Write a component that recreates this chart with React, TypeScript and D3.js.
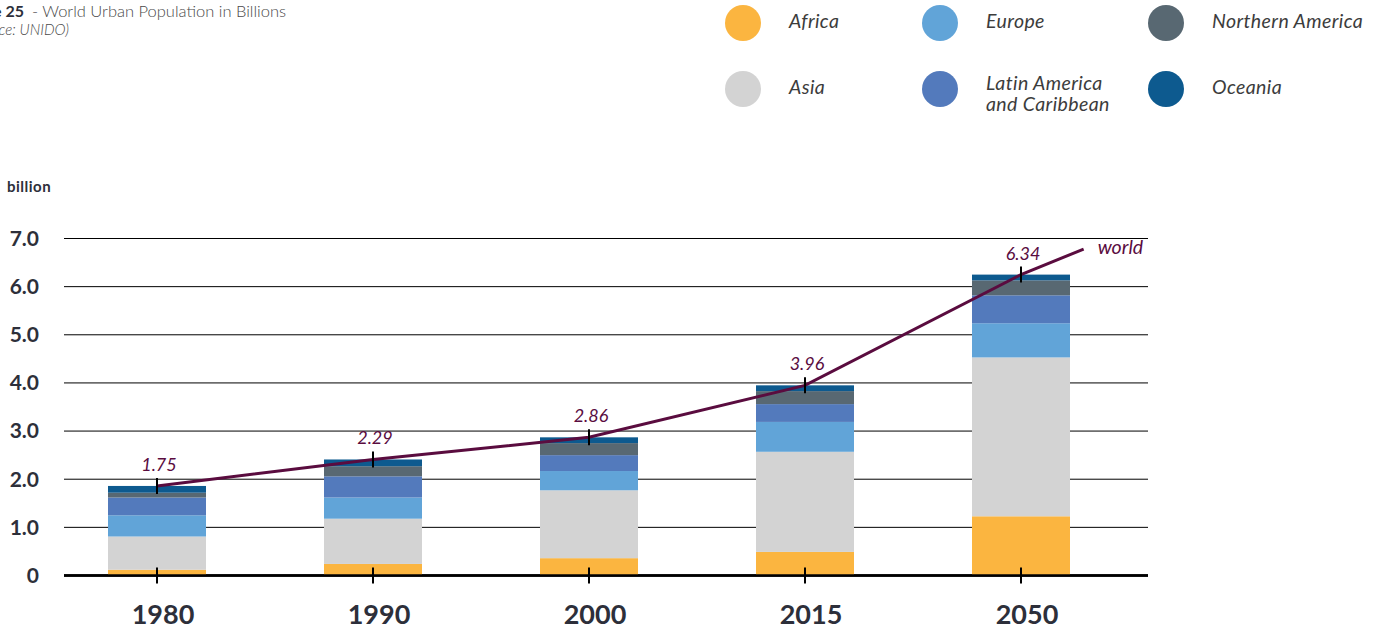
import React from 'react'
import * as d3 from 'd3'

// urban population by region, billions
const years = ['1980', '1990', '2000', '2015', '2050']
const africa = [0.12, 0.24, 0.36, 0.49, 1.23]
const asia = [0.69, 0.94, 1.41, 2.08, 3.3]
const europe = [0.44, 0.44, 0.4, 0.62, 0.71]
const latinAmerica = [0.37, 0.44, 0.33, 0.37, 0.58]
const northernAmerica = [0.1, 0.21, 0.25, 0.27, 0.31]
const oceania = [0.14, 0.14, 0.12, 0.12, 0.12]
const worldLabels = [1.75, 2.29, 2.86, 3.96, 6.34]
const worldTrendEnd = 6.78
const yTicks = [0, 1, 2, 3, 4, 5, 6, 7]

const regions = ['Africa', 'Asia', 'Europe', 'Latin America and Caribbean', 'Northern America', 'Oceania']
const regionColors = ['#fbb540', '#d3d3d3', '#61a4d8', '#537abc', '#586872', '#0d5a8f']
const legendOrder = ['Africa', 'Asia', 'Europe', 'Latin America and Caribbean', 'Northern America', 'Oceania']
const legendLines = [['Africa'], ['Asia'], ['Europe'], ['Latin America', 'and Caribbean'], ['Northern America'], ['Oceania']]

const W = 1377, H = 637
const LINE = '#5a0c3f'
const INK = '#2d2f3a'

export default function App() {
  const rows = years.map((yr, i) => ({
    year: yr,
    Africa: africa[i],
    Asia: asia[i],
    Europe: europe[i],
    'Latin America and Caribbean': latinAmerica[i],
    'Northern America': northernAmerica[i],
    Oceania: oceania[i],
  }))
  const stacked = d3.stack().keys(regions)(rows as any)
  const totals = rows.map((r, i) => stacked[stacked.length - 1][i][1])

  const x = d3.scalePoint().domain(years).range([157, 1021])
  const y = d3.scaleLinear().domain([0, 7]).range([575.5, 238.5])
  const color = d3.scaleOrdinal<string>().domain(regions).range(regionColors)
  const barW = 98
  const gridL = 64, gridR = 1148

  const step = x.step()
  const linePts: [number, number][] = years.map((yr, i) => [x(yr)!, y(totals[i])])
  linePts.push([x(years[years.length - 1])! + step * 0.29, y(worldTrendEnd)])
  const linePath = d3.line()(linePts)

  return (
    <svg width={W} height={H} style={{ position: 'absolute', left: 0, top: 0, fontFamily: 'Lato, sans-serif' }}>
      {/* title (cut off at the left edge, as in the source image) */}
      <text x={24} y={17} fontSize={16} textAnchor="end" fill={INK} fontWeight={700}>Figure 25</text>
      <text x={32} y={17} fontSize={16.5} fill="#4a4a4a" fontWeight={300} textLength={254}>- World Urban Population in Billions</text>
      <text x={69} y={35} fontSize={15} textAnchor="end" fill="#4a4a4a" fontStyle="italic" fontWeight={300}>(Source: UNIDO)</text>

      {/* legend */}
      {legendOrder.map((name, i) => {
        const col = Math.floor(i / 2)
        const row = i % 2
        const cx = [743, 940, 1166][col]
        const cy = [23, 89][row]
        const lines = legendLines[i]
        return (
          <g key={name}>
            <circle cx={cx} cy={cy} r={18} fill={color(name)} />
            {lines.map((t, j) => (
              <text key={t} x={cx + 46} y={lines.length > 1 ? cy + 1 + j * 21 : cy + 5}
                fontSize={19.5} fontStyle="italic" fill="#3c3c3c" letterSpacing={0.4}>{t}</text>
            ))}
          </g>
        )
      })}

      {/* y axis */}
      <text x={7} y={192} fontSize={15} fontWeight={700} fill={INK} letterSpacing={0.5}>billion</text>
      {yTicks.map(t => (
        <g key={t}>
          <line x1={gridL} x2={gridR} y1={y(t)} y2={y(t)} stroke="#000" strokeWidth={t === 0 ? 2.5 : 1} />
          <text x={39} y={y(t)} dy="0.35em" textAnchor="end" fontSize={21} fontWeight={700} fill={INK}>
            {t === 0 ? '0' : d3.format('.1f')(t)}
          </text>
        </g>
      ))}

      {/* bars */}
      {stacked.map(s => (
        <g key={s.key} fill={color(s.key)}>
          {s.map((d, i) => (
            <rect key={i} x={x(years[i])! - barW / 2} width={barW}
              y={y(d[1])} height={y(d[0]) - y(d[1])} />
          ))}
        </g>
      ))}
      <line x1={gridL} x2={gridR} y1={y(0)} y2={y(0)} stroke="#000" strokeWidth={2.5} />

      {/* world line */}
      <path d={linePath!} fill="none" stroke={LINE} strokeWidth={3} />
      {years.map((yr, i) => (
        <g key={yr}>
          <line x1={x(yr)} x2={x(yr)} y1={y(totals[i]) - 8} y2={y(totals[i]) + 8} stroke="#000" strokeWidth={2} />
          <line x1={x(yr)} x2={x(yr)} y1={y(0) - 8} y2={y(0) + 8} stroke="#000" strokeWidth={2} />
          <text x={x(yr)! + 2} y={y(totals[i]) - 15} textAnchor="middle" fontSize={18} fontStyle="italic" fill={LINE}>
            {d3.format('.2f')(worldLabels[i])}
          </text>
          <text x={x(yr)! + 6} y={624} textAnchor="middle" fontSize={27} fontWeight={700} fill={INK}>{yr}</text>
        </g>
      ))}
      <text x={linePts[linePts.length - 1][0] + 14} y={254} fontSize={19.5} fontStyle="italic" fill={LINE}>world</text>
    </svg>
  )
}
